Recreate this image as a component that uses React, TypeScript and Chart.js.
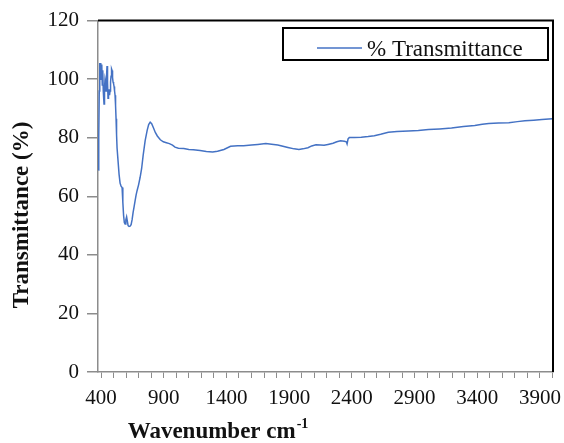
import React, { useEffect, useRef } from "react";
import { Chart, registerables } from "chart.js";

Chart.register(...registerables);

const wavenumbers = [
  378, 382, 386, 390, 394, 398, 402, 406, 410, 414, 418, 424, 428, 432, 436, 440, 444, 448, 452, 456,
  460, 464, 468, 472, 476, 480, 484, 488, 492, 496, 500, 504, 508, 512, 516, 520, 524, 528, 536, 544,
  552, 560, 568, 574, 580, 586, 592, 598, 604, 610, 616, 624, 632, 640, 648, 656, 664, 672, 680, 688,
  700, 712, 724, 736, 752, 768, 780, 792, 804, 817, 833, 849, 873, 897, 921, 945, 970, 990, 1017, 1060,
  1100, 1137, 1190, 1240, 1290, 1329, 1380, 1433, 1490, 1537, 1600, 1650, 1714, 1760, 1810, 1850, 1890, 1940, 1978, 2010,
  2050, 2080, 2114, 2150, 2178, 2210, 2250, 2280, 2310, 2340, 2356, 2362, 2370, 2380, 2420, 2475, 2530, 2579, 2630, 2691,
  2760, 2851, 2930, 3011, 3100, 3195, 3290, 3380, 3440, 3492, 3570, 3652, 3720, 3780, 3850, 3916, 3970, 4000,
];

const transmittance = [
  69, 80, 96, 105.5, 103, 105.5, 100, 105, 98, 103, 96, 91.5, 97, 100, 99, 96, 101, 104.5, 99, 93.5,
  95, 96.5, 94.5, 96, 99, 101, 103.5, 103, 100.5, 99, 98.5, 97.5, 96, 94.5, 91, 86.5, 81, 76.5, 72, 67.5,
  64.5, 63.5, 63, 58, 53.5, 51, 50.5, 52, 53, 51.5, 50, 49.7, 49.8, 50.3, 52, 54.5, 56.5, 58.5, 60.5, 62,
  64, 66.5, 69.5, 74, 79, 82.5, 84.5, 85.3, 84.8, 83.5, 81.8, 80.6, 79.3, 78.6, 78.3, 78, 77.5, 76.8, 76.4, 76.3,
  76, 75.9, 75.6, 75.3, 75.1, 75.4, 76, 77.1, 77.3, 77.3, 77.5, 77.7, 78, 77.8, 77.5, 77.1, 76.7, 76.2, 76, 76.2,
  76.6, 77.2, 77.6, 77.5, 77.4, 77.7, 78.1, 78.6, 79, 78.8, 78.6, 77.9, 79.6, 80.1, 80.1, 80.2, 80.4, 80.7, 81.2, 81.9,
  82.1, 82.3, 82.5, 82.8, 83, 83.3, 83.8, 84.2, 84.6, 84.9, 85, 85.1, 85.5, 85.8, 86, 86.2, 86.4, 86.5,
];

const xTickLabels = [400, 900, 1400, 1900, 2400, 2900, 3400, 3900];
const xMinorStep = 100;
const xMin = 376;
const xMax = 4004;
const yMin = 0;
const yMax = 120;
const yStep = 20;

const seriesName = "% Transmittance";
const xTitle = "Wavenumber cm";
const xTitleSup = "-1";
const yTitle = "Transmittance (%)";

const LINE_COLOR = "#4472C4";
const AXIS_GRAY = "#8c8c8c";
const TEXT = "#111111";
const FONT = "'Liberation Serif', 'Times New Roman', serif";

const decorPlugin = {
  id: "decor",
  afterDraw(chart: any) {
    const { ctx, chartArea: a } = chart;
    ctx.save();
    // black frame on top and right
    ctx.strokeStyle = "#000";
    ctx.lineWidth = 2;
    ctx.beginPath();
    ctx.moveTo(a.left, a.top);
    ctx.lineTo(a.right, a.top);
    ctx.lineTo(a.right, a.bottom);
    ctx.stroke();

    // legend box
    ctx.strokeStyle = "#000";
    ctx.lineWidth = 2;
    ctx.fillStyle = "#fff";
    ctx.fillRect(283, 28, 265, 32);
    ctx.strokeRect(283, 28, 265, 32);
    ctx.strokeStyle = LINE_COLOR;
    ctx.lineWidth = 1.5;
    ctx.beginPath();
    ctx.moveTo(317, 48);
    ctx.lineTo(362, 48);
    ctx.stroke();
    ctx.fillStyle = TEXT;
    ctx.font = `23px ${FONT}`;
    ctx.textAlign = "left";
    ctx.textBaseline = "alphabetic";
    ctx.fillText(seriesName, 367, 56);

    // y title
    ctx.save();
    ctx.translate(22, 215);
    ctx.rotate(-Math.PI / 2);
    ctx.font = `bold 23px ${FONT}`;
    ctx.textAlign = "center";
    ctx.textBaseline = "middle";
    ctx.fillText(yTitle, 0, 0);
    ctx.restore();

    // x title with superscript
    ctx.font = `bold 23px ${FONT}`;
    const w1 = ctx.measureText(xTitle).width;
    ctx.font = `bold 14px ${FONT}`;
    const w2 = ctx.measureText(xTitleSup).width;
    const startX = 218 - (w1 + w2 + 1) / 2;
    ctx.textAlign = "left";
    ctx.textBaseline = "alphabetic";
    ctx.font = `bold 23px ${FONT}`;
    ctx.fillText(xTitle, startX, 438);
    ctx.font = `bold 14px ${FONT}`;
    ctx.fillText(xTitleSup, startX + w1 + 1, 428);
    ctx.restore();
  },
};

export default function App() {
  const canvasRef = useRef<HTMLCanvasElement | null>(null);

  useEffect(() => {
    document.body.style.margin = "0";
    const canvas = canvasRef.current;
    if (!canvas) return;
    const points = wavenumbers.map((x, i) => ({ x, y: transmittance[i] }));
    const chart = new Chart(canvas, {
      type: "line",
      data: {
        datasets: [
          {
            label: seriesName,
            data: points,
            borderColor: LINE_COLOR,
            borderWidth: 1.5,
            pointRadius: 0,
            tension: 0,
            fill: false,
          },
        ],
      },
      options: {
        responsive: false,
        animation: false,
        devicePixelRatio: 1,
        layout: { padding: { left: 0, right: 11, top: 20, bottom: 0 } },
        plugins: {
          legend: { display: false },
          tooltip: { enabled: false },
          title: { display: false },
        },
        scales: {
          x: {
            type: "linear",
            min: xMin,
            max: xMax,
            afterBuildTicks: (scale: any) => {
              const ticks = [];
              for (let v = xTickLabels[0]; v <= xMax; v += xMinorStep) ticks.push({ value: v });
              scale.ticks = ticks;
            },
            afterFit: (scale: any) => {
              scale.height = 71;
            },
            ticks: {
              autoSkip: false,
              maxRotation: 0,
              minRotation: 0,
              padding: 8,
              color: TEXT,
              font: { family: FONT, size: 21 },
              callback: (v: any) => (xTickLabels.includes(Number(v)) ? String(v) : ""),
            },
            grid: {
              display: true,
              drawOnChartArea: false,
              drawTicks: true,
              tickLength: 6,
              color: AXIS_GRAY,
              lineWidth: 1,
            },
            border: { display: true, color: AXIS_GRAY, width: 1.5 },
          },
          y: {
            type: "linear",
            min: yMin,
            max: yMax,
            afterFit: (scale: any) => {
              scale.width = 98;
            },
            ticks: {
              stepSize: yStep,
              padding: 8,
              color: TEXT,
              font: { family: FONT, size: 21 },
            },
            grid: {
              display: true,
              drawOnChartArea: false,
              drawTicks: true,
              tickLength: 11,
              color: AXIS_GRAY,
              lineWidth: 1.5,
            },
            border: { display: true, color: AXIS_GRAY, width: 1.5 },
          },
        },
      },
      plugins: [decorPlugin],
    } as any);
    return () => chart.destroy();
  }, []);

  return (
    <div style={{ position: "absolute", left: 0, top: 0, width: 564, height: 443, background: "#fff" }}>
      <canvas ref={canvasRef} width={564} height={443} style={{ display: "block" }} />
    </div>
  );
}
